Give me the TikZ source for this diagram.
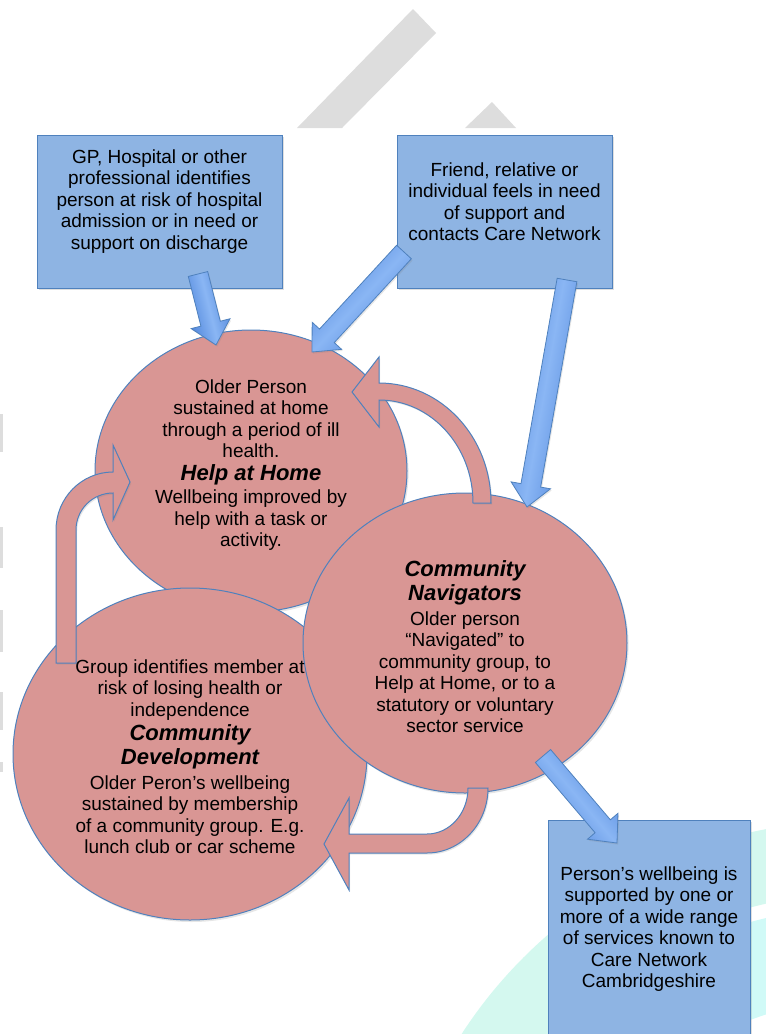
\documentclass[tikz,border=0pt]{standalone}
\usepackage{fontspec}
\setmainfont{Liberation Sans}
\usetikzlibrary{shapes.geometric,positioning,calc,shadows}

\definecolor{boxblue}{RGB}{142,180,227}
\definecolor{edgeblue}{RGB}{79,129,189}
\definecolor{bubblepink}{RGB}{217,150,148}
\definecolor{arrowdark}{RGB}{78,132,218}
\definecolor{arrowlight}{RGB}{138,182,244}
\definecolor{wmgrey}{RGB}{221,221,221}
\definecolor{mint}{RGB}{212,248,239}
\definecolor{aqua}{RGB}{208,250,247}

\tikzset{
  box/.style={rectangle, draw=edgeblue, line width=0.5pt, fill=boxblue,
    inner sep=0pt, drop shadow={opacity=0.25, shadow xshift=0.8pt, shadow yshift=-1pt}},
  bubble/.style={ellipse, draw=edgeblue, line width=0.5pt, fill=bubblepink,
    inner sep=0pt, drop shadow={opacity=0.2, shadow xshift=0.8pt, shadow yshift=-1pt}},
  pinkarrow/.style={draw=edgeblue, line width=0.5pt, fill=bubblepink,
    drop shadow={opacity=0.2, shadow xshift=0.6pt, shadow yshift=-0.8pt}},
  bluearrow/.style={draw=edgeblue, line width=0.4pt, top color=arrowdark,
    bottom color=arrowdark, middle color=arrowlight,
    drop shadow={opacity=0.2, shadow xshift=0.6pt, shadow yshift=-0.8pt}},
  txt/.style={align=center, inner sep=0pt, font=\fontsize{9.5}{10.75}\selectfont}
}
\newcommand{\ttl}[1]{{\fontsize{11}{12}\selectfont\bfseries\itshape #1}}
\newcommand{\flowarrow}[3]{%
  \coordinate (fh) at ($(#2)!11pt!(#1)$);
  \path[bluearrow, shading angle=#3]
    ($(#1)!5pt!90:(#2)$) -- ($(fh)!5pt!90:(#2)$) -- ($(fh)!10pt!90:(#2)$)
    -- (#2) -- ($(fh)!10pt!-90:(#2)$) -- ($(fh)!5pt!-90:(#2)$)
    -- ($(#1)!5pt!-90:(#2)$) -- cycle;
}

\begin{document}
\begin{tikzpicture}[x=0.5pt, y=-0.5pt]
  \useasboundingbox (0,0) rectangle (766,1034);

  \begin{scope}
    \clip (0,0) rectangle (766,1034);
    \fill[mint, even odd rule] (853,1287) circle[radius=233pt] (853,1287) circle[radius=196.5pt];
    \fill[aqua, even odd rule] (853,1287) circle[radius=189.5pt] (853,1287) circle[radius=143pt];
    \fill[wmgrey] (297,128) -- (413,9) -- (436,33) -- (342,128) -- cycle;
    \fill[wmgrey] (465,128) -- (492,102) -- (516,128) -- cycle;
    \foreach \ya/\yb in {414/452, 527/568, 610/652, 692/730, 762/772}
      \fill[wmgrey] (0,\ya) rectangle (3,\yb);
  \end{scope}

  \node[box, minimum width=122.5pt, minimum height=76.5pt] (gp) at (159.5,211.5) {};
  \node[box, minimum width=107.5pt, minimum height=76.5pt] (fr) at (504.5,211.5) {};
  \node[box, minimum width=101pt, minimum height=115pt] (pw) at (649,935) {};

  \node[bubble, minimum width=156pt, minimum height=141pt] (hh) at (251,471) {};
  \node[bubble, minimum width=177pt, minimum height=166pt] (cd) at (190,754) {};
  \node[bubble, minimum width=162pt, minimum height=150pt] (cn) at (465,643) {};

  \path[pinkarrow] (473,503) -- (491,503)
    arc[start angle=0, end angle=90, x radius=56pt, y radius=60pt]
    -- (379,357) -- (352,392) -- (379,427) -- (379,400)
    arc[start angle=90, end angle=0, x radius=47pt, y radius=51.5pt] -- cycle;
  \path[pinkarrow] (56,663) -- (56,530)
    arc[start angle=180, end angle=90, x radius=28.5pt, y radius=29pt]
    -- (113,445) -- (130,482) -- (113,520) -- (113,493)
    arc[start angle=90, end angle=180, x radius=18.5pt, y radius=18.5pt]
    -- (76,663) -- cycle;
  \path[pinkarrow] (468,788) -- (488,788)
    arc[start angle=0, end angle=-90, x radius=30.5pt, y radius=32.5pt]
    -- (349,853) -- (349,890) -- (324,844) -- (349,798) -- (349,834) -- (427,834)
    arc[start angle=-90, end angle=0, x radius=20.5pt, y radius=23pt] -- cycle;

  \coordinate (gpout) at (198,274);
  \coordinate (hhin) at (216,345);
  \coordinate (frout) at (404,252);
  \coordinate (hhside) at (312,352);
  \coordinate (frdown) at (567,280);
  \coordinate (cnin) at (527,507);
  \coordinate (cnout) at (543,756);
  \coordinate (pwin) at (617,843);

  \flowarrow{gpout}{hhin}{-76}
  \flowarrow{frout}{hhside}{-133}
  \flowarrow{frdown}{cnin}{-100}
  \flowarrow{cnout}{pwin}{-50}

  \node[txt] (gpt) at ([yshift=5pt]gp.center) {GP, Hospital or other\\professional identifies\\person at risk of hospital\\admission or in need or\\support on discharge};
  \node[txt] (frt) at ([yshift=5pt]fr.center) {Friend, relative or\\individual feels in need\\of support and\\contacts Care Network};
  \node[txt] (pwt) at ([yshift=3pt]pw.center) {Person’s wellbeing is\\supported by one or\\more of a wide range\\of services known to\\Care Network\\Cambridgeshire};

  \node[txt] (hht) at ([yshift=3pt]hh.center) {Older Person\\sustained at home\\through a period of ill\\health.\\[0.75pt]\ttl{Help at Home}\\[0.75pt]Wellbeing improved by\\help with a task or\\activity.};
  \node[txt] (cnt) at ([yshift=-1.75pt]cn.center) {\ttl{Community}\\[1.25pt]\ttl{Navigators}\\[1.75pt]Older person\\“Navigated” to\\community group, to\\Help at Home, or to a\\statutory or voluntary\\sector service};
  \node[txt] (cdt) at ([yshift=-1.25pt]cd.center) {Group identifies member at\\risk of losing health or\\independence\\[1.25pt]\ttl{Community}\\[1.25pt]\ttl{Development}\\[1.75pt]Older Peron’s wellbeing\\sustained by membership\\of a community group. E.g.\\lunch club or car scheme};
\end{tikzpicture}
\end{document}
